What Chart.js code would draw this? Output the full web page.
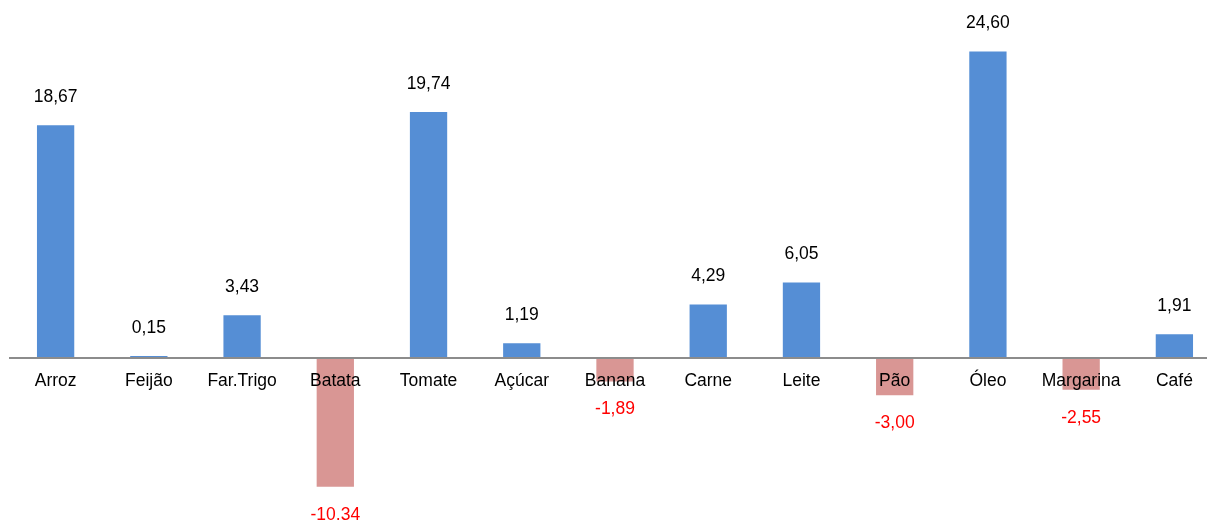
<!DOCTYPE html>
<html>
<head>
<meta charset="utf-8">
<script src="https://cdn.jsdelivr.net/npm/chart.js@4/dist/chart.umd.min.js"></script>
<style>
  html, body { margin: 0; padding: 0; background: #fff; overflow: hidden; }
  #wrap { width: 1221px; height: 520px; position: relative; }
</style>
</head>
<body>
<div id="wrap"><canvas id="chart"></canvas></div>
<script>
// data
var categories = ['Arroz', 'Feijão', 'Far.Trigo', 'Batata', 'Tomate', 'Açúcar', 'Banana', 'Carne', 'Leite', 'Pão', 'Óleo', 'Margarina', 'Café'];
var values = [18.67, 0.15, 3.43, -10.34, 19.74, 1.19, -1.89, 4.29, 6.05, -3.00, 24.60, -2.55, 1.91];

var posColor = '#558ED5';
var negColor = '#D99694';
var font = '17.5px "Liberation Sans", Arial, sans-serif';

function fmt(v) {
  return v.toFixed(2).replace('.', ',');
}

// draws zero line, category names and value labels
var labelsPlugin = {
  id: 'labels',
  afterDatasetsDraw: function(chart) {
    var ctx = chart.ctx;
    var area = chart.chartArea;
    var y0 = chart.scales.y.getPixelForValue(0);
    ctx.save();
    ctx.strokeStyle = '#8c8c8c';
    ctx.lineWidth = 2;
    ctx.beginPath();
    ctx.moveTo(area.left, y0);
    ctx.lineTo(area.right, y0);
    ctx.stroke();

    ctx.font = font;
    ctx.textAlign = 'center';
    ctx.textBaseline = 'middle';
    var meta = chart.getDatasetMeta(0);
    meta.data.forEach(function(bar, i) {
      var v = values[i];
      ctx.fillStyle = '#000';
      ctx.fillText(categories[i], bar.x, y0 + 23);
      if (v >= 0) {
        ctx.fillStyle = '#000';
        ctx.fillText(fmt(v), bar.x, bar.y - 28);
      } else {
        ctx.fillStyle = '#ff0000';
        ctx.fillText(fmt(v), bar.x, bar.y + 28);
      }
    });
    ctx.restore();
  }
};

new Chart(document.getElementById('chart'), {
  type: 'bar',
  data: {
    labels: categories,
    datasets: [{
      data: values,
      backgroundColor: values.map(function(v) { return v < 0 ? negColor : posColor; }),
      borderWidth: 0,
      categoryPercentage: 1,
      barPercentage: 0.4
    }]
  },
  options: {
    responsive: true,
    maintainAspectRatio: false,
    animation: false,
    layout: { padding: { left: 9, right: 0, top: 9, bottom: 0 } },
    plugins: {
      legend: { display: false },
      tooltip: { enabled: false }
    },
    scales: {
      x: { display: false, offset: true },
      y: { display: false, min: -13, max: 28 }
    }
  },
  plugins: [labelsPlugin]
});
</script>
</body>
</html>
